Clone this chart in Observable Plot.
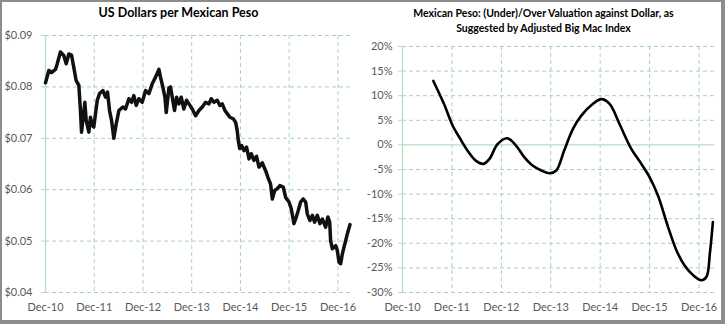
<!DOCTYPE html>
<html><head><meta charset="utf-8">
<script src="https://cdn.jsdelivr.net/npm/d3@7"></script>
<script src="https://cdn.jsdelivr.net/npm/@observablehq/plot@0.6"></script>
<style>
body{margin:0;background:#fff;}
#frame{position:absolute;left:0;top:0;width:725px;height:324px;box-sizing:border-box;border-style:solid;border-color:#8c8c8c;border-width:2px 4px 4px 2px;pointer-events:none;}
.panel{position:absolute;top:0;}
.title{position:absolute;font-family:Lato, sans-serif;font-weight:bold;color:#000;text-align:center;white-space:nowrap;}
</style></head><body>
<div id="left" class="panel" style="left:0"></div>
<div id="right" class="panel" style="left:362px"></div>
<div class="title" style="left:0;width:357px;top:5px;font-size:12.5px">US Dollars per Mexican Peso</div>
<div class="title" style="left:362px;width:363px;top:6px;font-size:10.5px;line-height:15px">Mexican Peso: (Under)/Over Valuation against Dollar, as<br>Suggested by Adjusted Big Mac Index</div>
<div id="frame"></div>
<script>
// ---- Left chart: US dollars per Mexican peso ----
const usdDates = ["2010-12-01","2010-12-26","2011-01-15","2011-02-14","2011-02-27","2011-03-23","2011-04-17","2011-05-05","2011-05-25","2011-06-14","2011-07-01","2011-07-19","2011-08-08","2011-08-20","2011-08-28","2011-09-07","2011-09-22","2011-10-02","2011-10-22","2011-11-03","2011-11-16","2011-11-28","2011-12-11","2011-12-24","2012-01-10","2012-02-04","2012-02-24","2012-03-10","2012-03-25","2012-04-09","2012-04-26","2012-05-14","2012-06-03","2012-07-03","2012-07-23","2012-08-17","2012-09-06","2012-09-23","2012-10-11","2012-10-31","2012-11-25","2012-12-20","2013-01-14","2013-02-08","2013-03-05","2013-03-30","2013-04-11","2013-04-29","2013-05-14","2013-05-24","2013-06-13","2013-06-25","2013-07-08","2013-07-25","2013-08-09","2013-08-27","2013-09-13","2013-10-03","2013-10-23","2013-11-10","2013-12-05","2013-12-30","2014-01-24","2014-02-18","2014-03-15","2014-04-09","2014-04-26","2014-05-16","2014-06-10","2014-06-30","2014-07-18","2014-08-07","2014-08-24","2014-09-13","2014-10-08","2014-10-26","2014-11-07","2014-11-15","2014-11-25","2014-12-10","2014-12-27","2015-01-16","2015-02-03","2015-02-20","2015-03-12","2015-04-01","2015-04-19","2015-05-14","2015-06-08","2015-06-25","2015-07-15","2015-07-28","2015-08-14","2015-09-03","2015-09-23","2015-10-18","2015-11-05","2015-11-30","2015-12-17","2016-01-06","2016-01-19","2016-02-08","2016-02-25","2016-03-16","2016-04-03","2016-04-15","2016-05-05","2016-05-23","2016-06-09","2016-06-29","2016-07-19","2016-08-06","2016-08-31","2016-09-17","2016-09-30","2016-10-07","2016-10-20","2016-11-14","2016-11-26","2016-12-09","2016-12-21","2017-01-03","2017-01-15","2017-01-28","2017-02-09","2017-03-01"];
const usdValues = [0.0808,0.0832,0.0828,0.0834,0.0845,0.0868,0.0861,0.0845,0.0864,0.0862,0.0838,0.0812,0.0803,0.0754,0.0712,0.0735,0.0770,0.0735,0.0712,0.0741,0.0725,0.0722,0.0748,0.0774,0.0787,0.0793,0.0780,0.0790,0.0754,0.0735,0.0700,0.0728,0.0754,0.0761,0.0757,0.0777,0.0770,0.0783,0.0764,0.0777,0.0770,0.0793,0.0787,0.0806,0.0819,0.0834,0.0819,0.0799,0.0780,0.0750,0.0798,0.0800,0.0780,0.0754,0.0780,0.0767,0.0780,0.0757,0.0774,0.0767,0.0757,0.0744,0.0754,0.0761,0.0770,0.0767,0.0777,0.0770,0.0774,0.0764,0.0767,0.0754,0.0748,0.0741,0.0738,0.0731,0.0715,0.0696,0.0680,0.0686,0.0676,0.0683,0.0660,0.0670,0.0657,0.0665,0.0644,0.0652,0.0637,0.0624,0.0611,0.0582,0.0598,0.0602,0.0608,0.0605,0.0585,0.0576,0.0563,0.0534,0.0543,0.0560,0.0576,0.0582,0.0576,0.0553,0.0540,0.0550,0.0537,0.0550,0.0534,0.0543,0.0527,0.0547,0.0537,0.0501,0.0485,0.0491,0.0482,0.0459,0.0456,0.0475,0.0488,0.0501,0.0514,0.0532];
const usdTicks = [0.04, 0.05, 0.06, 0.07, 0.08, 0.09];

// ---- Right chart: valuation vs dollar (%) ----
const valDates = ["2011-07-17","2011-10-04","2011-12-07","2012-01-25","2012-03-25","2012-05-25","2012-07-22","2012-09-04","2012-11-04","2013-01-13","2013-03-19","2013-05-19","2013-07-19","2013-09-22","2013-11-22","2014-01-10","2014-03-10","2014-05-13","2014-07-13","2014-10-07","2014-12-10","2015-02-10","2015-04-22","2015-07-19","2015-10-01","2015-12-01","2016-02-01","2016-04-16","2016-06-16","2016-08-16","2016-10-19","2016-12-19","2017-01-25","2017-02-19","2017-03-13"];
const valValues = [13.0,8.3,3.9,1.55,-1.15,-3.2,-3.85,-2.84,0.2,1.35,-0.14,-2.5,-4.2,-5.2,-5.75,-5.2,-1.15,3.2,5.9,8.3,9.3,8.3,4.3,-0.8,-3.85,-6.55,-10.3,-16.7,-21.4,-24.5,-26.5,-27.5,-26.8,-22.0,-15.7];
const valTicks = [-30, -25, -20, -15, -10, -5, 0, 5, 10, 15, 20];

// ---- Shared x ticks ----
const xTickDates = ["2010-12-01","2011-12-01","2012-12-01","2013-12-01","2014-12-01","2015-12-01","2016-12-01"];

const gridColor = "#a9d4b2";
const axisColor = "#b7dcbf";
const textColor = "#595959";
const xTicks = xTickDates.map(d => new Date(d));
const fmtX = d3.utcFormat("%b-%y");
const style = {fontFamily: "Lato, sans-serif", fontSize: "11px", color: textColor, background: "transparent", overflow: "visible"};

const usd = usdDates.map((d, i) => ({date: new Date(d), value: usdValues[i]}));
const val = valDates.map((d, i) => ({date: new Date(d), value: valValues[i]}));

const left = Plot.plot({
  width: 362, height: 324,
  marginLeft: 45, marginRight: 12, marginTop: 35, marginBottom: 32,
  style,
  x: {type: "utc", domain: [new Date("2010-12-01"), new Date("2017-03-05")], label: null},
  y: {domain: [0.04, 0.09], label: null},
  marks: [
    Plot.ruleY(usdTicks, {stroke: gridColor, strokeDasharray: "4,3"}),
    Plot.ruleX(xTicks.slice(1), {stroke: gridColor, strokeDasharray: "4,3"}),
    Plot.ruleX([xTicks[0]], {stroke: axisColor, strokeWidth: 1.3}),
    Plot.axisY({ticks: usdTicks, tickFormat: d3.format("$.2f"), tickSize: 4, tickPadding: 9, stroke: axisColor, label: null}),
    Plot.axisX({ticks: xTicks, tickFormat: fmtX, tickSize: 0, tickPadding: 11, label: null}),
    Plot.line(usd, {x: "date", y: "value", stroke: "#111", strokeWidth: 3.5, strokeLinejoin: "round"})
  ]
});
document.getElementById("left").appendChild(left);

const right = Plot.plot({
  width: 363, height: 324,
  marginLeft: 40, marginRight: 11, marginTop: 46, marginBottom: 32,
  style,
  x: {type: "utc", domain: [new Date("2010-12-01"), new Date("2017-03-25")], label: null},
  y: {domain: [-30, 20], label: null},
  marks: [
    Plot.ruleY(valTicks.filter(v => v !== 0), {stroke: gridColor, strokeDasharray: "4,3"}),
    Plot.ruleX(xTicks.slice(1), {stroke: gridColor, strokeDasharray: "4,3"}),
    Plot.ruleY([0], {stroke: axisColor, strokeWidth: 1.3}),
    Plot.ruleX([xTicks[0]], {stroke: axisColor, strokeWidth: 1.3}),
    Plot.axisY({ticks: valTicks, tickFormat: d => d + "%", tickSize: 4, tickPadding: 6, stroke: axisColor, label: null}),
    Plot.axisX({ticks: xTicks, tickFormat: fmtX, tickSize: 0, tickPadding: 11, label: null}),
    Plot.line(val, {x: "date", y: "value", stroke: "#000", strokeWidth: 2.6, curve: "catmull-rom", strokeLinejoin: "round"})
  ]
});
document.getElementById("right").appendChild(right);
</script>
</body></html>
